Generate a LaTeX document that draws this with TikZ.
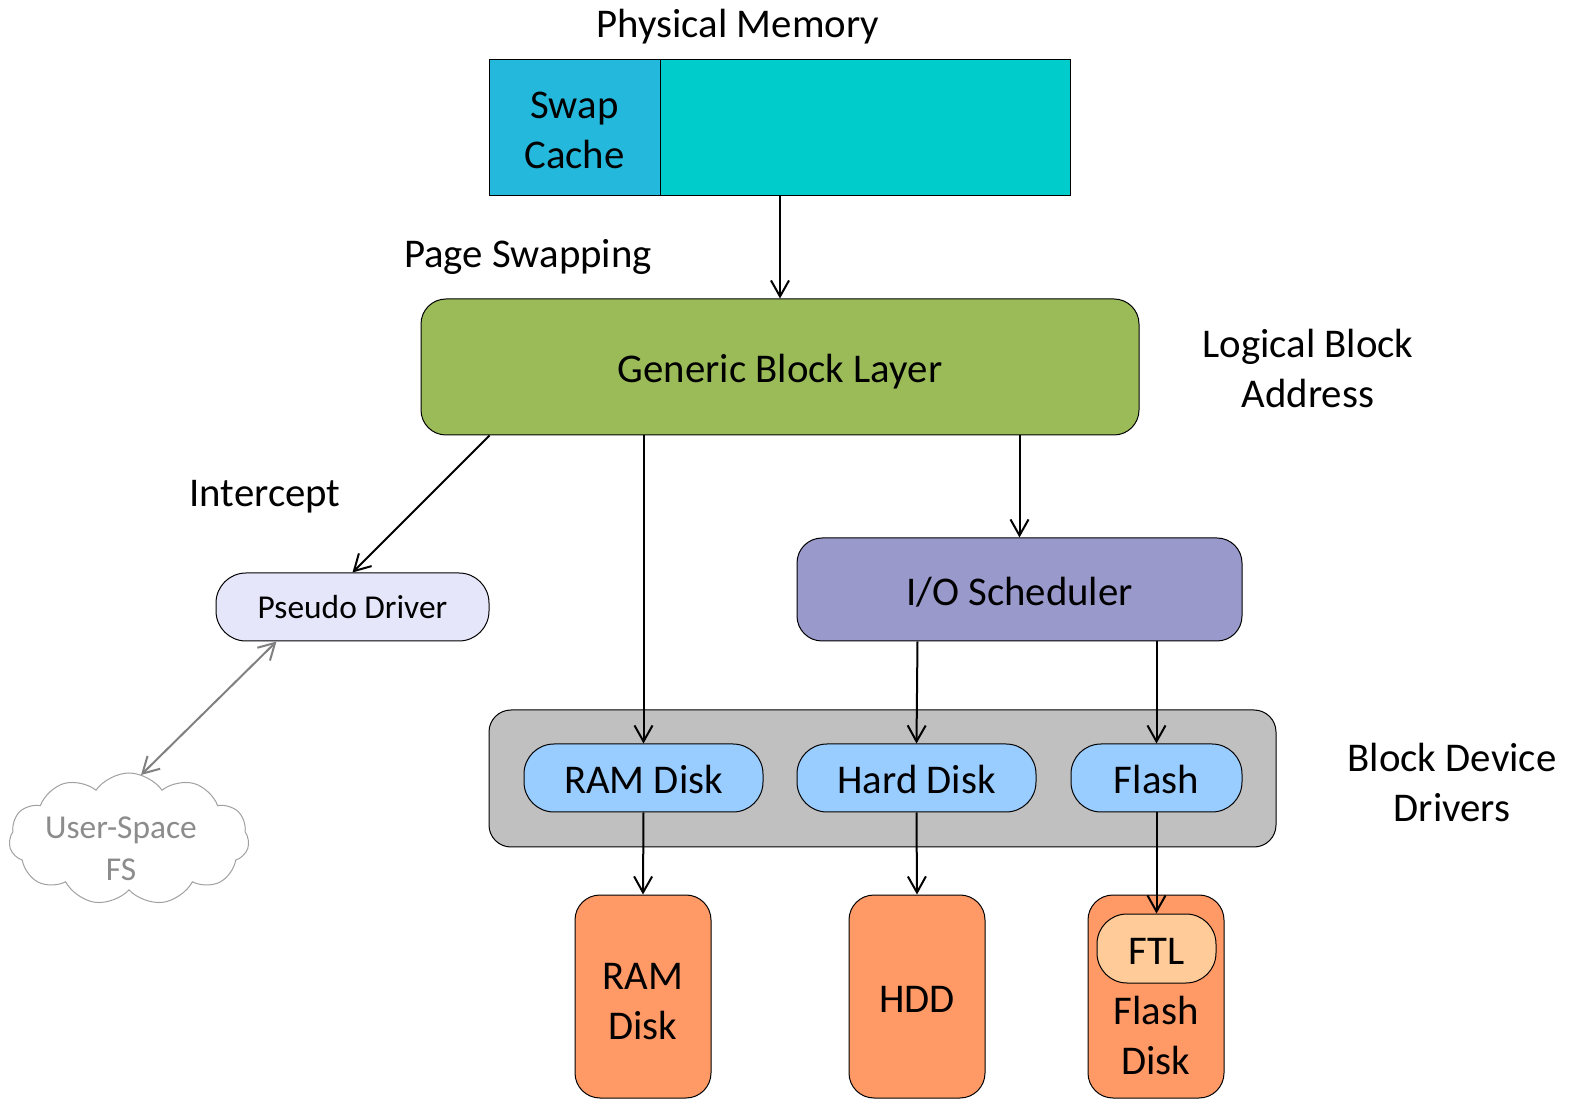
\documentclass[tikz,border=0pt]{standalone}
\usepackage{fontspec}
\setmainfont{Carlito}
\usetikzlibrary{arrows.meta,shapes.symbols,calc}
\definecolor{swapc}{HTML}{24B8DC}
\definecolor{memc}{HTML}{00CCCC}
\definecolor{gblc}{HTML}{9BBB59}
\definecolor{pdc}{HTML}{E6E6FA}
\definecolor{iosc}{HTML}{9999CC}
\definecolor{contc}{HTML}{C0C0C0}
\definecolor{drvc}{HTML}{99CCFF}
\definecolor{diskc}{HTML}{FF9966}
\definecolor{ftlc}{HTML}{FFCC99}
\definecolor{cloudtxt}{HTML}{8C8C8C}
\definecolor{cloudline}{HTML}{A0A0A0}
\begin{document}
\begin{tikzpicture}[x=0.5pt,y=-0.5pt,
  bigfont/.style={font=\fontsize{20.4}{25}\selectfont},
  smallfont/.style={font=\fontsize{16.7}{21}\selectfont},
  tx/.style={text height=21pt, text depth=5pt},
  box/.style={draw=black, line width=0.5pt, inner sep=0pt, align=center, bigfont},
  rbox/.style={box, rounded corners=12.5pt},
  pill/.style={box, rounded corners=15pt},
  lbl/.style={align=center, bigfont, inner sep=0pt},
  arr/.style={-{Straight Barb[length=8pt,width=9pt]}, line width=1pt},
  garr/.style={{Straight Barb[length=8pt,width=9pt]}-{Straight Barb[length=8pt,width=9pt]}, line width=1pt, draw=gray}
]
\useasboundingbox (0,0) rectangle (1571,1101);

% physical memory
\node[lbl, tx] (pmlbl) at (738,22) {Physical Memory};
\node[box, fill=swapc, minimum width=171*0.5pt, minimum height=136*0.5pt] (swap) at (574.5,128) {};
\node[lbl] (swaplbl) at (574.5,130) {Swap\\Cache};
\node[box, fill=memc, minimum width=410*0.5pt, minimum height=136*0.5pt] (mem) at (865,128) {};

\node[lbl, tx] (pslbl) at (528,252) {Page Swapping};

% generic block layer
\node[rbox, tx, fill=gblc, minimum width=718*0.5pt, minimum height=136*0.5pt] (gbl) at (780,367) {Generic Block Layer};
\node[lbl] (lba) at (1308,368) {Logical Block\\Address};

\node[lbl, tx] (icp) at (265,491) {Intercept};

% pseudo driver
\node[pill, fill=pdc, smallfont, minimum width=273*0.5pt, minimum height=68*0.5pt] (pd) at (352.5,607) {Pseudo Driver};

% cloud
\node[cloud, draw=cloudline, line width=0.5pt, cloud puffs=11, cloud puff arc=110, aspect=1.8,
  minimum width=240*0.5pt, minimum height=132*0.5pt, inner sep=0pt] (cloud) at (129,839) {};
\node[align=center, inner sep=0pt, text=cloudtxt, smallfont] (cloudlbl) at (121,849) {User-Space\\FS};
\coordinate (cloudtop) at (141,775);

% I/O scheduler
\node[rbox, tx, fill=iosc, minimum width=445*0.5pt, minimum height=103*0.5pt] (ios) at (1019.5,589.5) {I/O Scheduler};

% block device drivers container
\node[box, rounded corners=11pt, fill=contc, minimum width=787*0.5pt, minimum height=137*0.5pt] (cont) at (882.5,778.5) {};
\node[pill, tx, fill=drvc, minimum width=239*0.5pt, minimum height=68*0.5pt] (ramd) at (643.5,778) {RAM Disk};
\node[pill, tx, fill=drvc, minimum width=239*0.5pt, minimum height=68*0.5pt] (hdd) at (916.5,778) {Hard Disk};
\node[pill, tx, fill=drvc, minimum width=171*0.5pt, minimum height=68*0.5pt] (fl) at (1156.5,778) {Flash};
\node[lbl] (bdd) at (1452,782) {Block Device\\Drivers};

% devices
\node[rbox, fill=diskc, minimum width=136*0.5pt, minimum height=203*0.5pt] (rdisk) at (643,996.5) {};
\node[lbl] (rdlbl) at (643,1002) {RAM\\Disk};
\node[rbox, tx, fill=diskc, minimum width=136*0.5pt, minimum height=203*0.5pt] (hddbox) at (917,996.5) {HDD};
\node[rbox, fill=diskc, minimum width=136*0.5pt, minimum height=203*0.5pt] (fdisk) at (1156,996.5) {};
\node[pill, tx, fill=ftlc, minimum width=119*0.5pt, minimum height=69*0.5pt] (ftl) at (1156.5,948.5) {FTL};
\node[lbl] (fdlbl) at (1156,1035) {Flash\\Disk};

% connectors
\draw[arr] (mem.south -| gbl.north) -- (gbl.north);
\draw[arr] (gbl.south -| pd.east) -- (pd.north);
\draw[arr] (gbl.south -| ramd.north) -- (ramd.north);
\draw[arr] (gbl.south -| ios.north) -- (ios.north);
\draw[arr] ($(ios.south)+(-102,0)$) -- (hdd.north);
\draw[arr] (ios.south -| fl.north) -- (fl.north);
\draw[arr] (ramd.south) -- (rdisk.north);
\draw[arr] (hdd.south) -- (hddbox.north);
\draw[arr] (fl.south) -- (ftl.north);
\draw[garr] ($(pd.south)+(-76,0)$) -- (cloudtop);
\end{tikzpicture}
\end{document}
